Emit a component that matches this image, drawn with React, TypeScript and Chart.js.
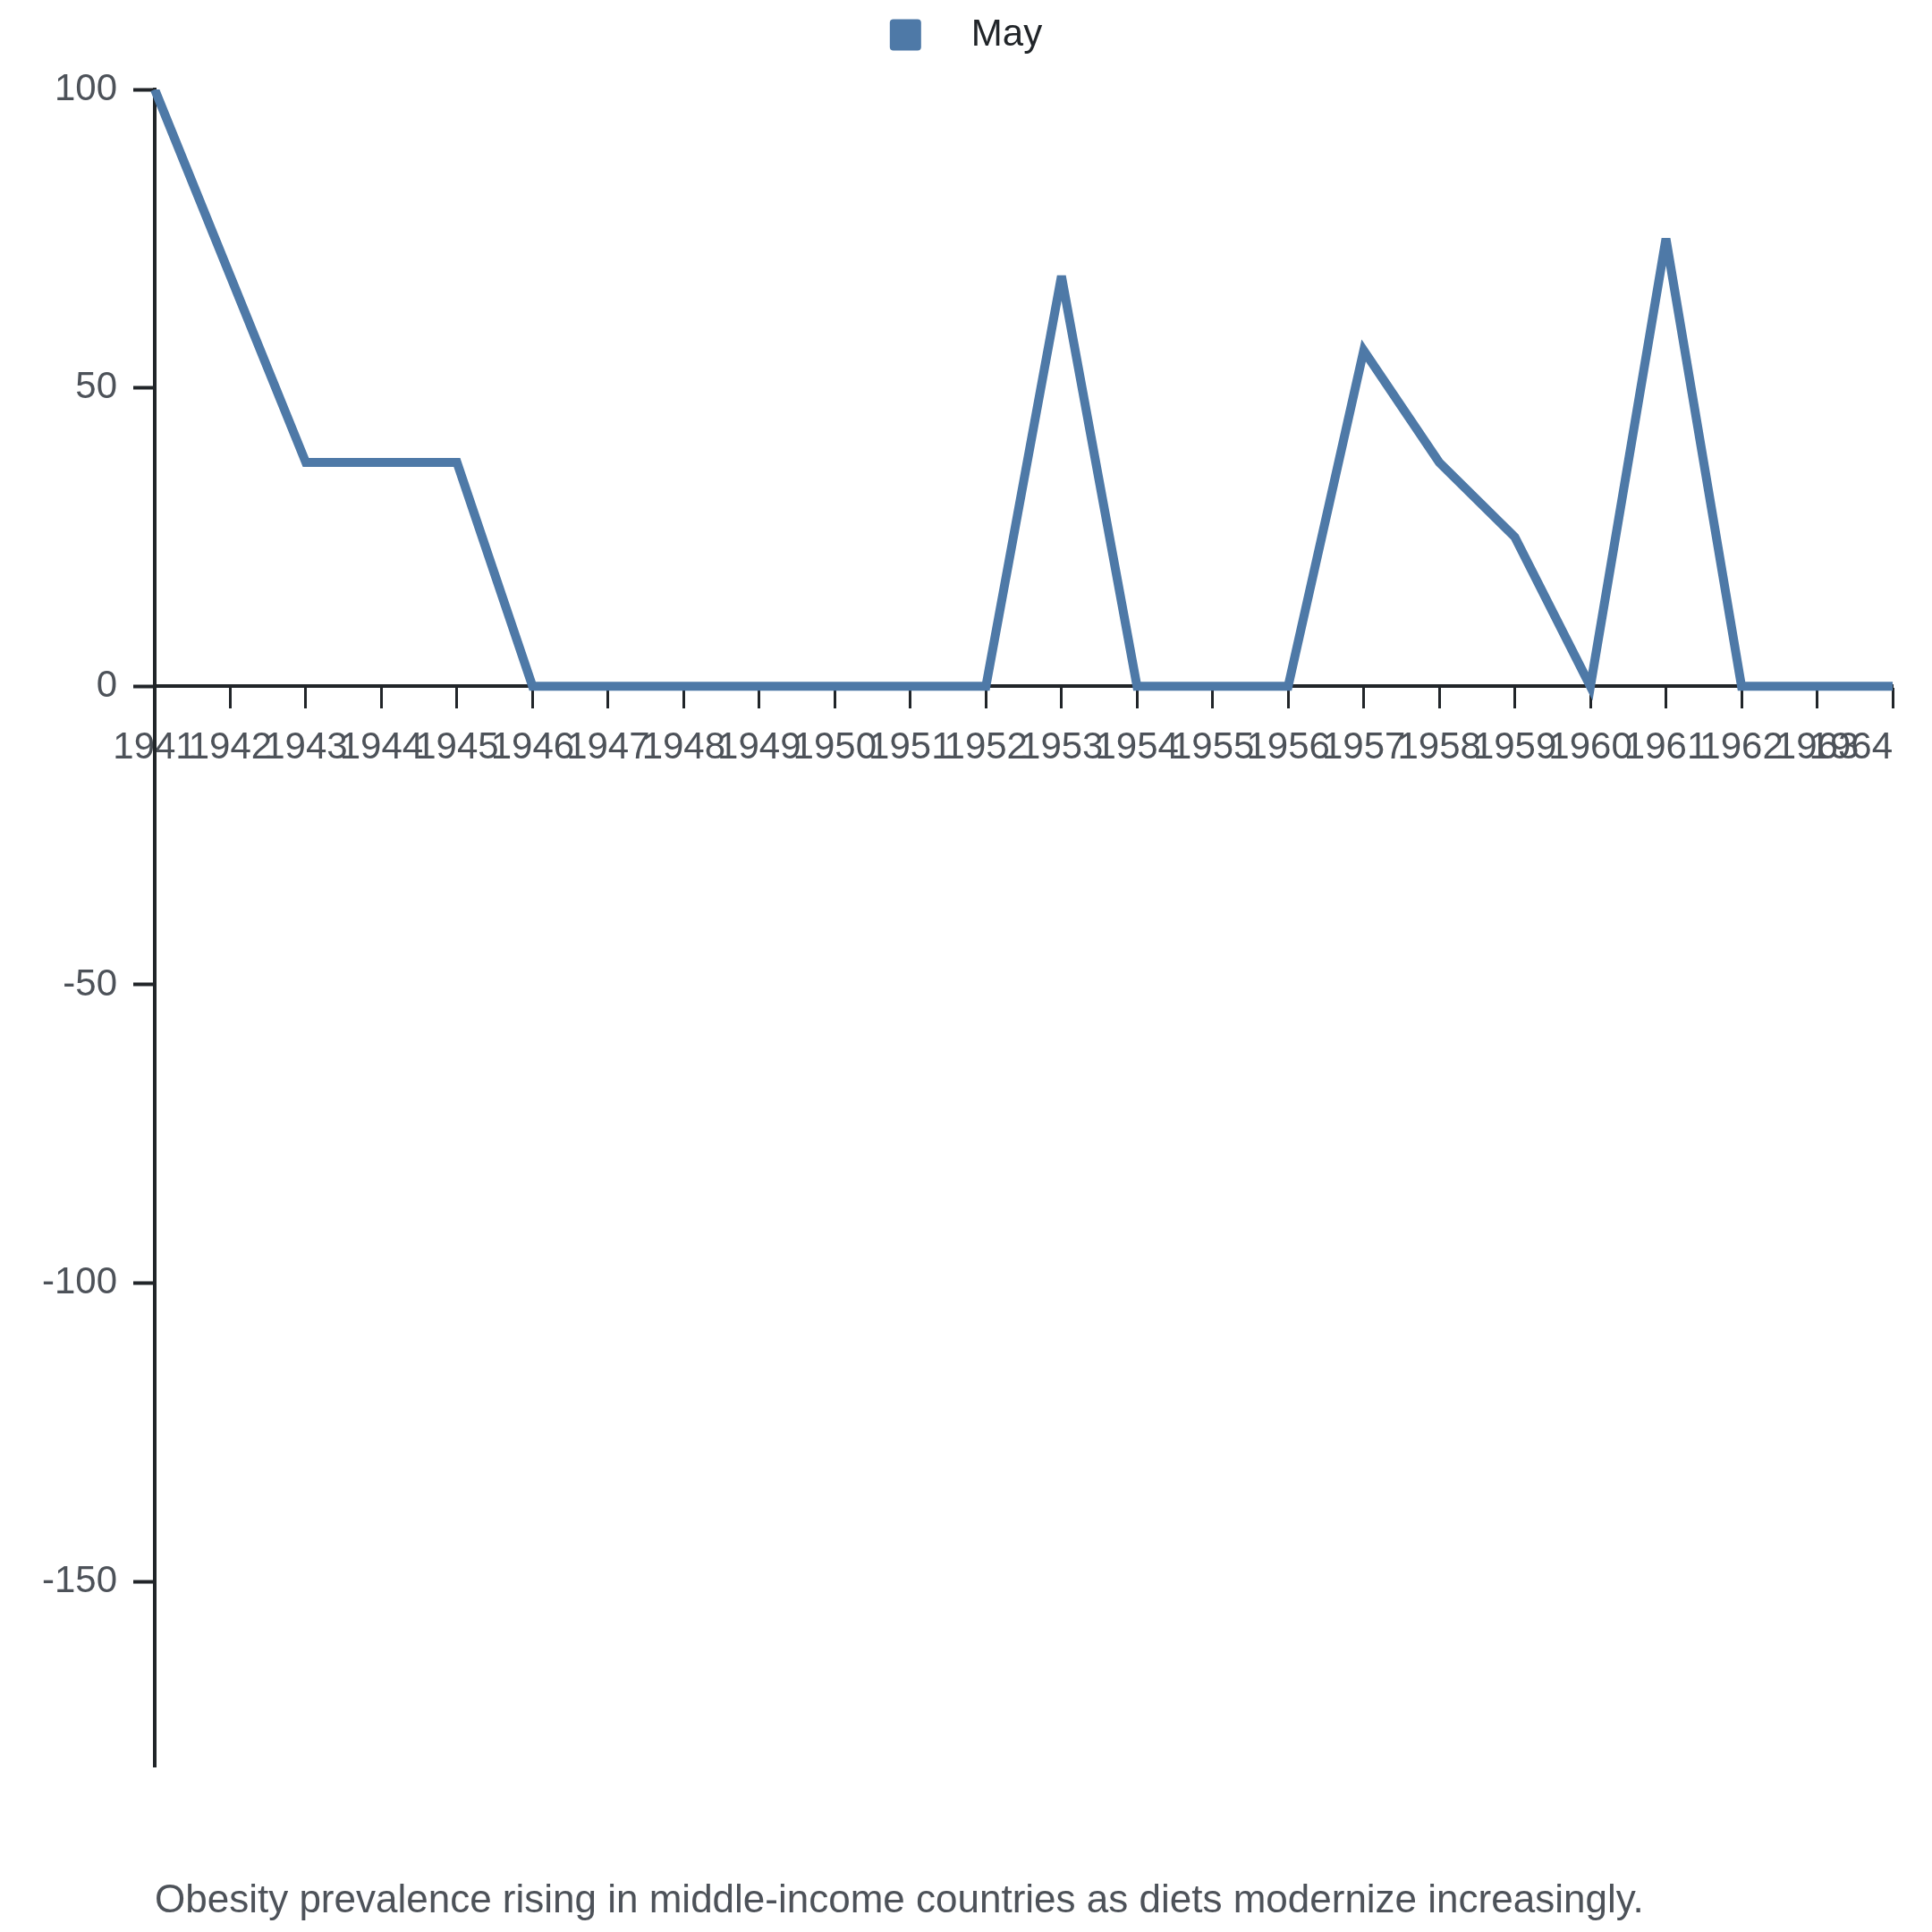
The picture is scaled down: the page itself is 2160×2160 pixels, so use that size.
import { useEffect, useRef } from 'react'
import { Chart, registerables } from 'chart.js'

Chart.register(...registerables)

// Data
const years = [
  '1941', '1942', '1943', '1944', '1945', '1946', '1947', '1948',
  '1949', '1950', '1951', '1952', '1953', '1954', '1955', '1956',
  '1957', '1958', '1959', '1960', '1961', '1962', '1963', '1964',
]
const mayValues = [
  100, 68.75, 37.5, 37.5, 37.5, 0, 0, 0,
  0, 0, 0, 0, 68.75, 0, 0, 0,
  56.25, 37.5, 25, 0, 75, 0, 0, 0,
]
const yTicks = [-150, -100, -50, 0, 50, 100]
const yMin = -181
const yMax = 100
const seriesLabel = 'May'
const caption = 'Obesity prevalence rising in middle-income countries as diets modernize increasingly.'

const FONT = "'Liberation Sans', Arial, sans-serif"
const BLUE = '#4e79a7'
const AXIS = '#212529'
const TEXT = '#4d5259'

// small tweaks: svg-like miter limit, legend nudged up
const lookPlugin = {
  id: 'look',
  afterLayout(chart: any) {
    const l = chart.legend
    if (l) { l.top -= 30; l.bottom -= 30 }
  },
  beforeDatasetsDraw(chart: any) {
    chart.ctx.miterLimit = 4
  },
}

export default function App() {
  const canvasRef = useRef<HTMLCanvasElement>(null)

  useEffect(() => {
    document.body.style.margin = '0'
    if (!canvasRef.current) return
    const last = years.length - 1

    const chart = new Chart(canvasRef.current, {
      type: 'line',
      data: {
        labels: years,
        datasets: [{
          label: seriesLabel,
          data: mayValues,
          borderColor: BLUE,
          backgroundColor: BLUE,
          borderWidth: 10,
          pointRadius: 0,
          tension: 0,
          fill: false,
        }],
      },
      options: {
        animation: false,
        responsive: true,
        maintainAspectRatio: false,
        layout: { padding: 0 },
        plugins: {
          legend: {
            position: 'top',
            labels: {
              font: { family: FONT, size: 42 },
              color: '#212529',
              boxWidth: 35,
              boxHeight: 35,
              padding: 16,
              useBorderRadius: true,
              borderRadius: 4,
              generateLabels: (c: any) =>
                Chart.defaults.plugins.legend.labels.generateLabels(c).map((item: any) => ({
                  ...item,
                  text: '   ' + item.text,
                  lineWidth: 0,
                  fillStyle: BLUE,
                  strokeStyle: BLUE,
                })),
            },
          },
          title: {
            display: true,
            text: caption,
            position: 'bottom',
            align: 'start',
            fullSize: false,
            color: TEXT,
            font: { family: FONT, size: 44, weight: 'normal' },
            padding: { top: 124, bottom: 8 },
          },
          tooltip: { enabled: false },
        },
        scales: {
          x: {
            type: 'category',
            axis: 'x',
            position: { y: 0 },
            offset: false,
            z: 1,
            grid: { drawOnChartArea: false, tickLength: 23, tickWidth: 3, tickColor: AXIS },
            border: { color: AXIS, width: 4 },
            ticks: {
              autoSkip: false,
              maxRotation: 0,
              minRotation: 0,
              padding: 21,
              color: TEXT,
              font: { family: FONT, size: 42 },
              callback: (_v: any, i: number) => (i === last ? '' : years[i]),
            },
            afterFit: (s: any) => { s.paddingRight = 41 },
          },
          // carries only the last year label, right-aligned to its tick
          x2: {
            type: 'category',
            axis: 'x',
            position: { y: 0 },
            offset: false,
            z: 1,
            grid: { display: false, drawTicks: false },
            border: { display: false },
            ticks: {
              autoSkip: false,
              maxRotation: 0,
              minRotation: 0,
              align: 'inner',
              padding: 44,
              color: TEXT,
              font: { family: FONT, size: 42 },
              callback: (_v: any, i: number) => (i === last ? years[i] : ''),
            },
          },
          y: {
            type: 'linear',
            min: yMin,
            max: yMax,
            z: 1,
            grid: { drawOnChartArea: false, tickLength: 24, tickWidth: 4, tickColor: AXIS },
            border: { color: AXIS, width: 4 },
            ticks: {
              padding: 18,
              color: TEXT,
              font: { family: FONT, size: 42 },
            },
            afterBuildTicks: (s: any) => { s.ticks = yTicks.map((v) => ({ value: v })) },
            afterFit: (s: any) => { s.width = 173; s.paddingTop = 100 },
          },
        },
      } as any,
      plugins: [lookPlugin],
    })

    return () => chart.destroy()
  }, [])

  return (
    <div style={{ position: 'relative', width: 2160, height: 2160 }}>
      <canvas ref={canvasRef}></canvas>
    </div>
  )
}
